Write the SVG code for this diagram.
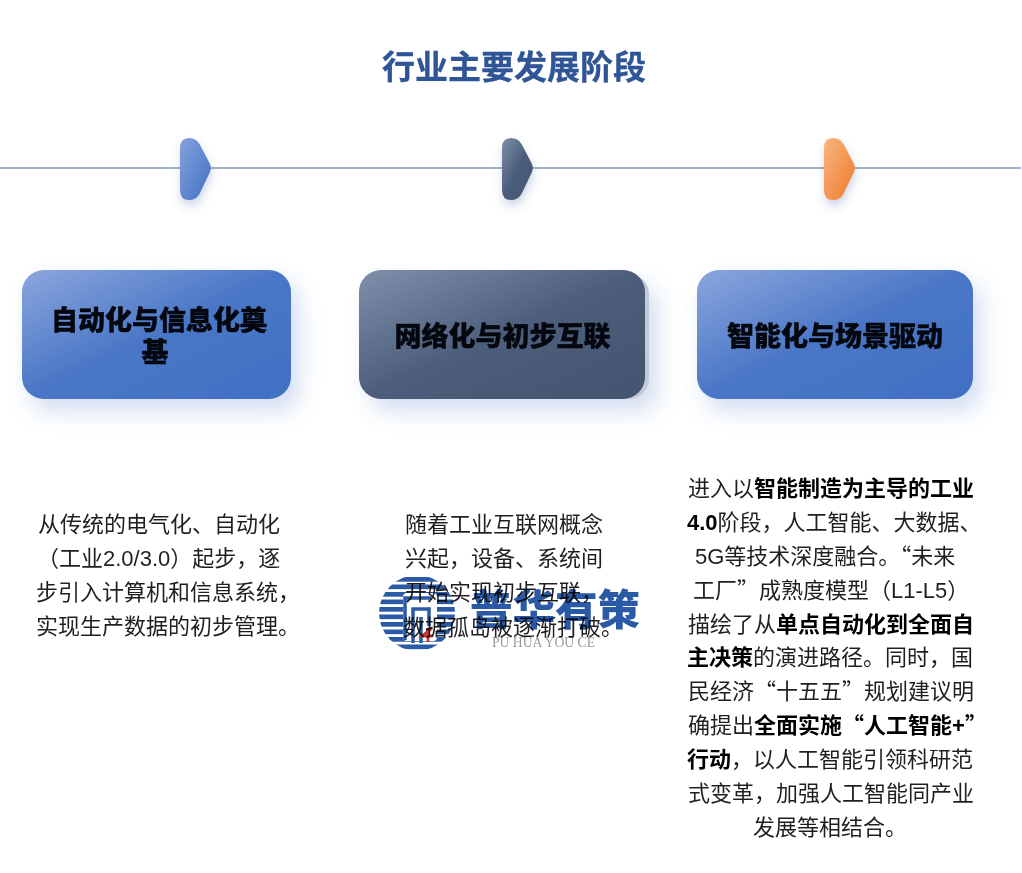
<svg xmlns="http://www.w3.org/2000/svg" width="1022" height="873" viewBox="0 0 1022 873">
<style>
text{font-family:"Noto Sans CJK SC","Liberation Sans",sans-serif}
.t{font-size:33px;font-weight:700;fill:#2f5597;text-anchor:middle;stroke:#2f5597;stroke-width:.3px}
.h{font-size:27px;font-weight:900;fill:#05070f;text-anchor:middle;stroke:#05070f;stroke-width:.4px}
.b{font-size:22px;fill:#1f1f1f;text-anchor:middle}
.s{text-anchor:start}
.bl{font-weight:700;fill:#000}
.la{font-family:"Liberation Sans",sans-serif}
#watermark{mix-blend-mode:multiply}
</style>
<defs>
<linearGradient id="gb" x1="0" y1="0" x2="1" y2="1"><stop offset="0" stop-color="#8ba6dd"/><stop offset=".5" stop-color="#4a76c6"/><stop offset="1" stop-color="#4270c3"/></linearGradient>
<linearGradient id="gd" x1="0" y1="0" x2="1" y2="1"><stop offset="0" stop-color="#82949f"/><stop offset=".02" stop-color="#7c8ea8"/><stop offset=".5" stop-color="#4c5e7b"/><stop offset="1" stop-color="#44546f"/></linearGradient>
<linearGradient id="gc" x1="0" y1="0" x2="1" y2="1"><stop offset="0" stop-color="#85a2dc"/><stop offset="1" stop-color="#4270c3"/></linearGradient>
<linearGradient id="go" x1="0" y1="0" x2="1" y2="1"><stop offset="0" stop-color="#f9b57f"/><stop offset="1" stop-color="#ee7a2c"/></linearGradient>
<filter id="s1" x="-30%" y="-40%" width="170%" height="200%"><feDropShadow dx="8" dy="12" stdDeviation="11" flood-color="#4270c3" flood-opacity=".24"/></filter>
<filter id="s2" x="-60%" y="-30%" width="220%" height="170%"><feDropShadow dx="1" dy="6" stdDeviation="5" flood-color="#3f5f9d" flood-opacity=".25"/></filter>
<path id="chev" d="M-15 -20 Q-15 -30 -6 -30 Q1 -30 4.500 -24 L14.500 -5 Q17 0 14.500 5 L4.500 26 Q1 32 -6 32 Q-15 32 -15 22 Z"/>
<pattern id="stripes" x="0" y="577" width="10" height="7.500" patternUnits="userSpaceOnUse"><rect width="10" height="4.700" fill="#2a5aa5"/></pattern>
<clipPath id="wc"><circle cx="417" cy="613" r="38"/></clipPath>
</defs>
<rect width="1022" height="873" fill="#fff"/>
<text class="t" x="514" y="79">行业主要发展阶段</text>
<g id="connectors"><line x1="0" y1="168" x2="1021" y2="168" stroke="#a2b1c6" stroke-width="2"/></g>
<g id="marker-1"><use href="#chev" x="195" y="168" fill="url(#gc)" filter="url(#s2)"/></g>
<g id="marker-2"><use href="#chev" x="517" y="168" fill="url(#gd)" filter="url(#s2)"/></g>
<g id="marker-3"><use href="#chev" x="839" y="168" fill="url(#go)" filter="url(#s2)"/></g>
<g id="node-1"><rect x="22" y="270" width="269" height="129" rx="22" fill="url(#gb)" filter="url(#s1)"/>
<text class="h" x="159" y="330">自动化与信息化奠</text><text class="h" x="155" y="362">基</text></g>
<g id="node-2"><rect x="363" y="274" width="286" height="125" rx="20" fill="#c5cbd6" filter="url(#s1)"/><rect x="359" y="270" width="286" height="129" rx="22" fill="url(#gd)"/>
<text class="h" x="502.500" y="346">网络化与初步互联</text></g>
<g id="node-3"><rect x="697" y="270" width="276" height="129" rx="22" fill="url(#gb)" filter="url(#s1)"/>
<text class="h" x="835" y="346">智能化与场景驱动</text></g>
<g id="text-1">
<text class="b" x="159" y="532">从传统的电气化、自动化</text>
<text class="b s" x="37" y="566">（工业<tspan class="la">2.0/3.0</tspan>）起步，逐</text>
<text class="b s" x="36" y="600">步引入计算机和信息系统，</text>
<text class="b s" x="36" y="634">实现生产数据的初步管理。</text>
</g>
<g id="text-2">
<text class="b s" x="405" y="532">随着工业互联网概念</text>
<text class="b s" x="405" y="566">兴起，设备、系统间</text>
<text class="b s" x="405" y="600">开始实现初步互联，</text>
<text class="b s" x="403" y="635">数据孤岛被逐渐打破。</text>
</g>
<g id="text-3">
<text class="b s" x="688" y="496">进入以<tspan class="bl">智能制造为主导的工业</tspan></text>
<text class="b s" x="687" y="530"><tspan class="bl la">4.0</tspan>阶段，人工智能、大数据、</text>
<text class="b s" x="695" y="564"><tspan class="la">5G</tspan>等技术深度融合。“未来</text>
<text class="b s" x="693" y="598">工厂”成熟度模型（<tspan class="la">L1-L5</tspan>）</text>
<text class="b s" x="688" y="632">描绘了从<tspan class="bl">单点自动化到全面自</tspan></text>
<text class="b s" x="687" y="665"><tspan class="bl">主决策</tspan>的演进路径。同时，国</text>
<text class="b s" x="688" y="699">民经济“十五五”规划建议明</text>
<text class="b s" x="688" y="733">确提出<tspan class="bl">全面实施“人工智能<tspan class="la">+</tspan>”</tspan></text>
<text class="b s" x="687" y="767"><tspan class="bl">行动</tspan>，以人工智能引领科研范</text>
<text class="b s" x="688" y="801">式变革，加强人工智能同产业</text>
<text class="b s" x="753" y="835">发展等相结合。</text>
</g>
<g id="watermark">
<circle cx="417" cy="613" r="38" fill="#fff"/>
<rect x="379" y="575" width="76" height="76" fill="url(#stripes)" clip-path="url(#wc)"/>
<rect x="403" y="593" width="34" height="48" rx="4" fill="#fff"/>
<path d="M405 640V598H431M413 643V609H429V626M421 617V643" fill="none" stroke="#2a5aa5" stroke-width="3.500"/>
<path d="M432 628L422 636H432M428 628V642" fill="none" stroke="#c8362e" stroke-width="2.800"/>
<text x="470" y="625" font-weight="900" fill="#2a5aa5" style="font-size:42.500px">普华有策</text>
<text x="492" y="647" textLength="103" lengthAdjust="spacingAndGlyphs" style="font-family:'Liberation Serif',serif;font-size:15px" fill="#9a9a9a">PU HUA YOU CE</text>
</g>
</svg>
